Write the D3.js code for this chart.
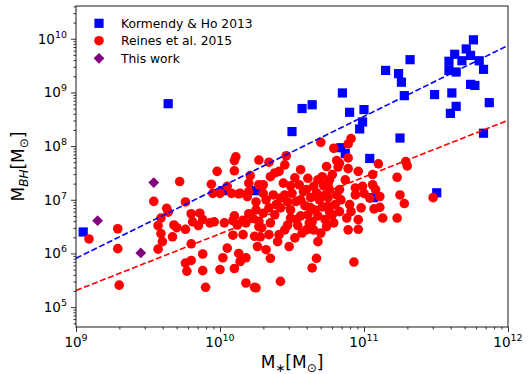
<!DOCTYPE html>
<html>
<head>
<meta charset="utf-8">
<script src="https://cdn.jsdelivr.net/npm/d3@7"></script>
<style>
  body { margin: 0; background: #fff; }
  svg { font-family: "DejaVu Sans", sans-serif; }
</style>
</head>
<body>
<div id="chart"></div>
<script>
// log10 values [M_star, M_BH]
const kormendyHo = [
  [9.05,6.40],[9.64,8.79],[10.02,7.17],[10.25,7.17],[10.50,8.27],[10.57,8.70],[10.64,8.77],
  [10.85,8.99],[10.90,8.63],[11.00,8.68],[10.99,8.45],[10.97,8.32],[10.84,7.97],[10.87,7.86],
  [11.04,7.77],[11.15,9.41],[11.24,9.35],[11.26,9.19],[11.32,9.61],[11.28,8.94],[11.25,8.15],
  [11.49,8.96],[11.59,9.58],[11.63,9.71],[11.59,9.41],[11.64,9.38],[11.68,9.59],[11.71,9.81],
  [11.74,9.69],[11.76,9.98],[11.80,9.59],[11.83,9.43],[11.61,8.99],[11.64,8.74],[11.60,8.61],
  [11.74,9.15],[11.77,9.13],[11.87,8.81],[11.83,8.24],[11.505,7.13],[11.065,7.04]
];

const reines = [
  [9.09,6.27],[9.29,6.46],[9.29,6.09],[9.30,5.41],[9.54,6.97],[9.63,6.84],[9.64,6.77],[9.59,6.66],
  [9.57,6.52],[9.59,6.37],[9.60,6.22],[9.57,6.08],[9.67,6.31],[9.68,6.53],[9.70,6.48],[9.72,7.34],
  [9.76,6.96],[9.76,6.45],[9.76,5.82],[9.77,5.67],[9.80,5.87],[9.80,6.18],[9.80,6.74],[9.81,6.59],
  [9.85,6.52],[9.88,6.63],[9.93,6.57],[9.96,6.59],[9.88,5.99],[9.88,5.68],[9.90,5.37],[10.00,5.70],
  [10.02,5.92],[10.05,6.10],[10.10,5.72],[10.13,6.00],[10.14,5.85],[10.18,5.92],[10.18,5.45],
  [10.24,5.37],[10.26,6.13],[10.00,7.12],[10.03,6.57],[10.09,6.34],[10.10,6.70],[10.09,6.61],
  [10.12,6.53],[10.14,7.12],[10.19,7.06],[10.20,6.74],[10.16,6.62],[10.25,6.96],[10.25,6.81],
  [10.23,6.65],[10.27,6.50],[10.28,6.31],[9.94,7.29],[9.98,7.53],[10.10,7.54],[10.10,7.73],
  [10.11,7.80],[10.21,7.45],[10.27,7.74],[10.20,7.31],[10.27,7.28],[9.95,7.12],[10.05,7.25],
  [10.08,7.12],[10.13,7.11],[9.86,6.75],[10.16,6.35],[10.18,6.57],[10.24,6.32],
  [10.34,7.70],[10.46,7.82],[10.45,7.65],[10.38,7.50],[10.35,7.43],[10.41,7.53],[10.30,7.28],
  [10.30,7.12],[10.44,7.31],[10.42,7.03],[10.37,7.09],[10.50,7.12],[10.53,6.97],[10.61,7.40],
  [10.55,7.28],[10.65,7.25],[10.71,7.43],[10.60,7.19],[10.42,6.85],[10.34,6.85],[10.49,6.81],
  [10.30,6.75],[10.27,6.60],[10.35,6.57],[10.34,6.35],[10.41,6.35],[10.40,6.22],[10.32,6.07],
  [10.35,5.91],[10.48,6.13],[10.52,6.29],[10.47,6.53],[10.57,6.38],[10.62,6.57],[10.68,6.22],
  [10.67,5.91],[10.64,5.73],[10.42,5.48],[10.60,6.44],[10.70,6.38],[10.70,8.07],[10.25,5.36],
  [10.20,7.15],[10.56,7.00],[10.59,6.89],[10.63,7.04],[10.66,6.81],[10.69,7.00],[10.68,6.70],
  [10.61,6.72],[10.56,6.70],[10.64,6.59],[10.73,7.09],[10.71,6.87],[10.53,6.63],[10.58,7.15],
  [10.67,7.13],[10.72,7.26],[10.76,7.19],[10.80,6.91],[10.83,6.78],[10.76,6.78],[10.75,7.04],
  [10.49,6.66],[10.45,6.44],
  [10.49,7.26],[10.52,7.41],[10.45,7.09],[10.39,6.91],[10.47,6.96],[10.63,6.85],[10.54,6.52],
  [10.65,6.44],[10.73,6.63],[10.32,7.00],[10.38,6.72],[10.29,6.48],[10.68,7.37],[10.83,7.19],
  [10.87,7.37],[10.56,7.56],
  [10.91,8.14],[10.89,8.04],[10.79,7.96],[10.81,7.73],[10.83,7.68],[10.82,7.61],[10.89,7.78],
  [10.89,7.58],[10.96,7.53],[11.10,7.67],[11.06,7.47],[11.29,7.71],[11.30,7.63],[11.23,7.42],
  [10.74,7.62],[10.78,7.47],[10.76,7.37],[10.75,7.28],[10.94,7.22],[10.99,7.25],[11.06,7.28],
  [11.08,7.19],[10.94,7.09],[11.00,7.12],[11.04,7.03],[11.11,7.06],[10.81,7.09],[10.84,7.00],
  [10.90,6.91],[10.91,6.78],[10.98,6.85],[11.07,6.83],[11.11,6.86],[11.25,7.09],[11.28,6.93],
  [11.13,6.66],[11.23,6.66],[10.88,6.66],[10.96,6.63],[10.89,6.44],[10.96,6.45],[10.78,6.72],
  [10.79,6.57],[10.74,6.50],[10.75,6.88],[10.93,5.84],[11.48,7.04]
];

const thisWork = [[9.54,7.32],[9.15,6.61],[9.45,6.01]];

// dashed relations, log10 values at the two x-limits
const fitLogX = [9, 12];
const fitKormendy = [5.91, 9.875];
const fitReines = [5.31, 8.48];

const xTicks = [9, 10, 11, 12];
const yTicks = [5, 6, 7, 8, 9, 10];
const legendLabels = ["Kormendy & Ho 2013", "Reines et al. 2015", "This work"];

const W = 528, H = 374;
const margin = {top: 6, right: 20, bottom: 47, left: 76};

const svg = d3.select("#chart").append("svg")
  .attr("width", W).attr("height", H);

const x = d3.scaleLog().domain([1e9, 1e12]).range([margin.left, W - margin.right]);
const y = d3.scaleLog().domain([Math.pow(10, 4.63), Math.pow(10, 10.61)]).range([H - margin.bottom, margin.top]);

const p = v => Math.pow(10, v);

// minor tick values
let xMinor = [], yMinor = [];
for (let e = 9; e < 12; e++) for (let k = 2; k < 10; k++) xMinor.push(k * p(e));
for (let e = 4; e < 11; e++) for (let k = 2; k < 10; k++) {
  let v = k * p(e);
  if (v > y.domain()[0] && v < y.domain()[1]) yMinor.push(v);
}

const bottom = H - margin.bottom;

// axes
svg.append("g").attr("transform", "translate(0," + bottom + ")")
  .call(d3.axisBottom(x).tickValues(xTicks.map(p)).tickFormat("").tickSize(5).tickSizeOuter(0))
  .call(g => g.select(".domain").remove());
svg.append("g").attr("transform", "translate(0," + bottom + ")")
  .call(d3.axisBottom(x).tickValues(xMinor).tickFormat("").tickSize(2.5))
  .call(g => g.select(".domain").remove());
svg.append("g").attr("transform", "translate(" + margin.left + ",0)")
  .call(d3.axisLeft(y).tickValues(yTicks.map(p)).tickFormat("").tickSize(5))
  .call(g => g.select(".domain").remove());
svg.append("g").attr("transform", "translate(" + margin.left + ",0)")
  .call(d3.axisLeft(y).tickValues(yMinor).tickFormat("").tickSize(2.5))
  .call(g => g.select(".domain").remove());
svg.selectAll(".tick line").attr("stroke", "#000").attr("stroke-width", 0.8);

// tick labels with exponents
xTicks.forEach(e => {
  let t = svg.append("text").attr("x", x(p(e))).attr("y", bottom + 20)
    .attr("text-anchor", "middle").attr("font-size", 13.5).attr("fill", "#000");
  t.append("tspan").text("10");
  t.append("tspan").attr("dy", -6).attr("font-size", 9.5).text(e);
});
yTicks.forEach(e => {
  let t = svg.append("text").attr("x", margin.left - 9).attr("y", y(p(e)) + 5)
    .attr("text-anchor", "end").attr("font-size", 13.5).attr("fill", "#000");
  t.append("tspan").text("10");
  t.append("tspan").attr("dy", -6).attr("font-size", 9.5).text(e);
});

// markers
svg.append("g").selectAll("rect").data(kormendyHo).enter().append("rect")
  .attr("x", d => x(p(d[0])) - 4.6).attr("y", d => y(p(d[1])) - 4.6)
  .attr("width", 9.2).attr("height", 9.2).attr("fill", "#0000ff");

svg.append("g").selectAll("circle").data(reines).enter().append("circle")
  .attr("cx", d => x(p(d[0]))).attr("cy", d => y(p(d[1])))
  .attr("r", 4.8).attr("fill", "#ff0000");

const diamond = (cx, cy, r) => "M" + cx + "," + (cy - r) + "L" + (cx + r) + "," + cy +
  "L" + cx + "," + (cy + r) + "L" + (cx - r) + "," + cy + "Z";

svg.append("g").selectAll("path").data(thisWork).enter().append("path")
  .attr("d", d => diamond(x(p(d[0])), y(p(d[1])), 5.4)).attr("fill", "#800080");

// dashed relations
const line = d3.line().x(d => x(p(d[0]))).y(d => y(p(d[1])));
svg.append("path").datum(fitLogX.map((v, i) => [v, fitKormendy[i]]))
  .attr("d", line).attr("fill", "none").attr("stroke", "#0000ff")
  .attr("stroke-width", 1.6).attr("stroke-dasharray", "6,2.6");
svg.append("path").datum(fitLogX.map((v, i) => [v, fitReines[i]]))
  .attr("d", line).attr("fill", "none").attr("stroke", "#ff0000")
  .attr("stroke-width", 1.6).attr("stroke-dasharray", "6,2.6");

// frame
svg.append("rect").attr("x", margin.left).attr("y", margin.top)
  .attr("width", W - margin.left - margin.right).attr("height", bottom - margin.top)
  .attr("fill", "none").attr("stroke", "#000").attr("stroke-width", 0.9);

// legend
const lg = svg.append("g");
const lx = 99, ly = [23.3, 40.7, 58.3];
lg.append("rect").attr("x", lx - 4.6).attr("y", ly[0] - 4.6).attr("width", 9.2).attr("height", 9.2).attr("fill", "#0000ff");
lg.append("circle").attr("cx", lx).attr("cy", ly[1]).attr("r", 4.8).attr("fill", "#ff0000");
lg.append("path").attr("d", diamond(lx, ly[2], 5.4)).attr("fill", "#800080");
legendLabels.forEach((s, i) => {
  lg.append("text").attr("x", 121).attr("y", ly[i] + 4.5).attr("font-size", 12.3).attr("fill", "#000").text(s);
});

// axis labels
let xl = svg.append("text").attr("x", (margin.left + W - margin.right) / 2).attr("y", H - 6)
  .attr("text-anchor", "middle").attr("font-size", 17).attr("fill", "#000");
xl.append("tspan").text("M");
xl.append("tspan").attr("dy", 4).attr("font-size", 12).text("\u2217");
xl.append("tspan").attr("dy", -4).text("[M");
xl.append("tspan").attr("dy", 4).attr("font-size", 12).text("\u2299");
xl.append("tspan").attr("dy", -4).text("]");

let yl = svg.append("text").attr("transform", "translate(24," + ((margin.top + bottom) / 2) + ") rotate(-90)")
  .attr("text-anchor", "middle").attr("font-size", 17).attr("fill", "#000");
yl.append("tspan").text("M");
yl.append("tspan").attr("dy", 4).attr("font-size", 12).attr("font-style", "italic").text("BH");
yl.append("tspan").attr("dy", -4).text("[M");
yl.append("tspan").attr("dy", 4).attr("font-size", 12).text("\u2299");
yl.append("tspan").attr("dy", -4).text("]");
</script>
</body>
</html>
